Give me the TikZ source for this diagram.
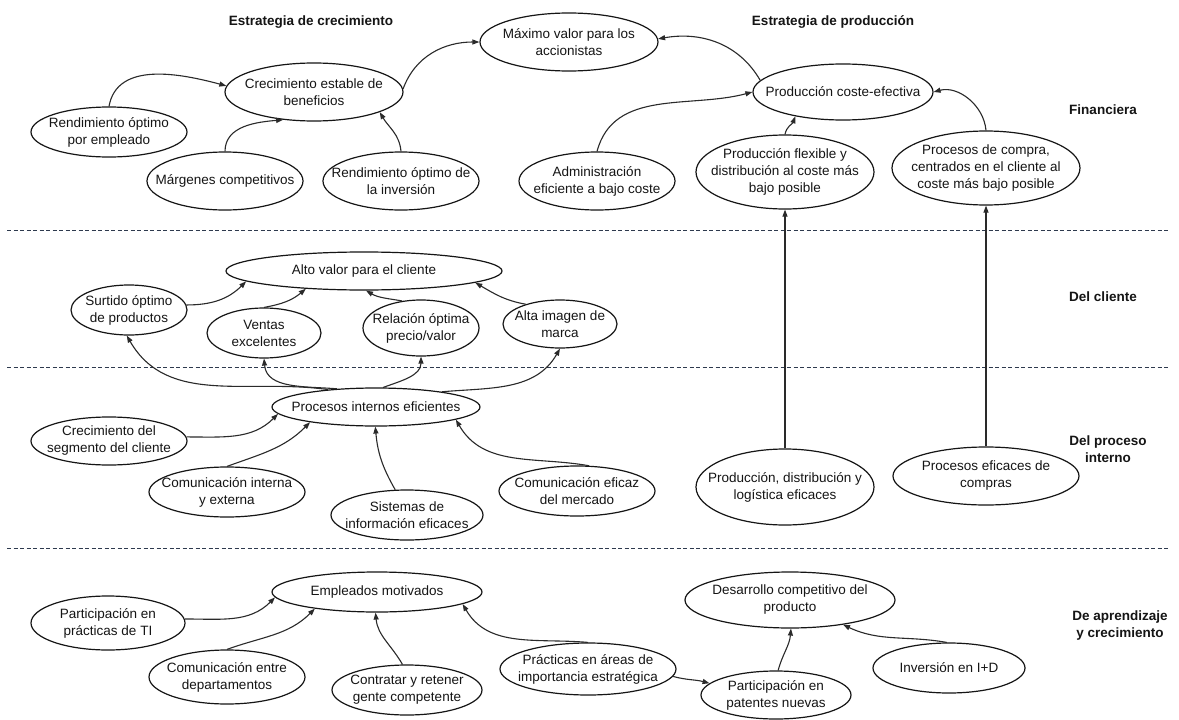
\documentclass[tikz,border=0pt]{standalone}
\usepackage{fontspec}
\setmainfont{Liberation Sans}
\usetikzlibrary{shapes.geometric,arrows.meta}

\definecolor{ink}{HTML}{151515}
\definecolor{wire}{HTML}{2A2A2A}
\definecolor{bandcol}{HTML}{2E3A4E}

\tikzset{
  bubble/.style={ellipse, draw=ink, line width=1.2pt, inner sep=0pt, fill=white},
  txt/.style={align=center, font=\fontsize{13.5}{17}\selectfont, inner sep=0pt, text=ink},
  head/.style={align=center, font=\fontsize{13.5}{17}\selectfont\bfseries, inner sep=0pt, text=ink},
  link/.style={draw=wire, line width=1.1pt, -{Triangle[length=7pt,width=5pt]}},
  band/.style={draw=bandcol, line width=1pt, dash pattern=on 4pt off 2.5pt},
}

% oval with its label: name, x, y (downwards), width, height, text
\newcommand{\ovalnode}[6]{%
  \node[bubble, minimum width=#4pt, minimum height=#5pt] (#1) at (#2,-#3) {};
  \node[txt] (#1-t) at (#1) {#6};}

\begin{document}
\begin{tikzpicture}[x=1pt,y=1pt]
\fill[white] (0,0) rectangle (1179,-720);
\useasboundingbox (0,0) rectangle (1179,-720);

% perspective separators
\coordinate (s1a) at (7,-230);  \coordinate (s1b) at (1170,-230);
\coordinate (s2a) at (7,-367);  \coordinate (s2b) at (1170,-367);
\coordinate (s3a) at (7,-548);  \coordinate (s3b) at (1170,-548);
\draw[band] (s1a) -- (s1b);
\draw[band] (s2a) -- (s2b);
\draw[band] (s3a) -- (s3b);

% headings and perspective names
\node[head] (h1) at (311,-22) {Estrategia de crecimiento};
\node[head] (h2) at (833,-22) {Estrategia de producción};
\node[head] (p1) at (1103,-110) {Financiera};
\node[head] (p2) at (1103,-297) {Del cliente};
\node[head] (p3) at (1108,-449) {Del proceso\\interno};
\node[head] (p4) at (1120,-626) {De aprendizaje\\y crecimiento};

% financial perspective
\ovalnode{max}{569}{42}{178}{58}{Máximo valor para los\\accionistas}
\ovalnode{crec}{314}{92}{178}{58}{Crecimiento estable de\\beneficios}
\ovalnode{remp}{109}{132}{156}{50}{Rendimiento óptimo\\por empleado}
\ovalnode{marg}{225}{181}{156}{58}{Márgenes competitivos}
\ovalnode{rinv}{401}{181}{156}{58}{Rendimiento óptimo de\\la inversión}
\ovalnode{admin}{597}{181}{156}{58}{Administración\\eficiente a bajo coste}
\ovalnode{pflex}{785}{172}{178}{74}{Producción flexible y\\distribución al coste más\\bajo posible}
\ovalnode{pcomp}{986}{168}{188}{74}{Procesos de compra,\\centrados en el cliente al\\coste más bajo posible}
\ovalnode{pce}{843}{92}{180}{56}{Producción coste-efectiva}

% customer perspective
\ovalnode{alto}{364}{271}{276}{38}{Alto valor para el cliente}
\ovalnode{surt}{129}{310}{116}{50}{Surtido óptimo\\de productos}
\ovalnode{vent}{264}{333}{114}{50}{Ventas\\excelentes}
\ovalnode{rel}{421}{328}{116}{56}{Relación óptima\\precio/valor}
\ovalnode{alta}{560}{324}{114}{48}{Alta imagen de\\marca}

% internal process perspective
\ovalnode{pint}{376}{407}{208}{38}{Procesos internos eficientes}
\ovalnode{cseg}{109}{441}{156}{48}{Crecimiento del\\segmento del cliente}
\ovalnode{cint}{227}{492}{156}{50}{Comunicación interna\\y externa}
\ovalnode{sist}{407}{515}{152}{50}{Sistemas de\\información eficaces}
\ovalnode{cmer}{577}{491}{156}{50}{Comunicación eficaz\\del mercado}
\ovalnode{pdl}{785}{487}{178}{76}{Producción, distribución y\\logística eficaces}
\ovalnode{pec}{986}{476}{186}{58}{Procesos eficaces de\\compras}

% learning and growth perspective
\ovalnode{emp}{377}{592}{210}{40}{Empleados motivados}
\ovalnode{pti}{108}{623}{154}{54}{Participación en\\prácticas de TI}
\ovalnode{cdep}{227}{677}{156}{54}{Comunicación entre\\departamentos}
\ovalnode{cont}{407}{690}{150}{50}{Contratar y retener\\gente competente}
\ovalnode{prac}{588}{669}{176}{52}{Prácticas en áreas de\\importancia estratégica}
\ovalnode{ppat}{776}{695}{150}{48}{Participación en\\patentes nuevas}
\ovalnode{des}{790}{600}{210}{56}{Desarrollo competitivo del\\producto}
\ovalnode{inv}{949}{668}{152}{50}{Inversión en I+D}

% financial links
\draw[link] (remp.north) to[out=80,in=165] (crec.176);
\draw[link] (marg.north) to[out=90,in=185] (crec.222);
\draw[link] (rinv.north) to[out=95,in=-60] (crec.343);
\draw[link] (crec.2) to[out=70,in=180] (max.west);
\draw[link] (pce.172) to[out=120,in=10] (max.2);
\draw[link] (admin.north) to[out=75,in=195] (pce.west);
\draw[link] (pflex.north) to[out=80,in=250] (pce.207);
\draw[link] (pcomp.north) to[out=95,in=15] (pce.east);

% customer links
\draw[link] (surt.5) to[out=0,in=225] (alto.185);
\draw[link] (vent.north) to[out=10,in=220] (alto.197);
\draw[link] (rel.125) to[out=170,in=-30] (alto.276);
\draw[link] (alta.150) to[out=170,in=-30] (alto.354);

% internal process links
\draw[link] (pint.160) to[out=172,in=-60] (surt.265);
\draw[link] (pint.155) to[out=175,in=275] (vent.south);
\draw[link] (pint.70) to[out=20,in=270] (rel.south);
\draw[link] (pint.13) to[out=5,in=240] (alta.south);
\draw[link] (cseg.3) to[out=0,in=225] (pint.184);
\draw[link] (cint.north) to[out=20,in=225] (pint.193);
\draw[link] (sist.115) to[out=120,in=275] (pint.268);
\draw[link] (cmer.65) to[out=170,in=300] (pint.351);
\draw[link] (pdl.north) -- (pflex.south);
\draw[link] (pec.north) -- (pcomp.south);

% learning links
\draw[link] (pti.3) to[out=0,in=225] (emp.183);
\draw[link] (cdep.north) to[out=20,in=225] (emp.195);
\draw[link] (cont.100) to[out=120,in=275] (emp.266);
\draw[link] (prac.north) to[out=175,in=300] (emp.352);
\draw[link] (prac.-5) to[out=-15,in=165] (ppat.170);
\draw[link] (ppat.85) to[out=75,in=265] (des.272);
\draw[link] (inv.95) to[out=170,in=-25] (des.335);
\end{tikzpicture}
\end{document}
